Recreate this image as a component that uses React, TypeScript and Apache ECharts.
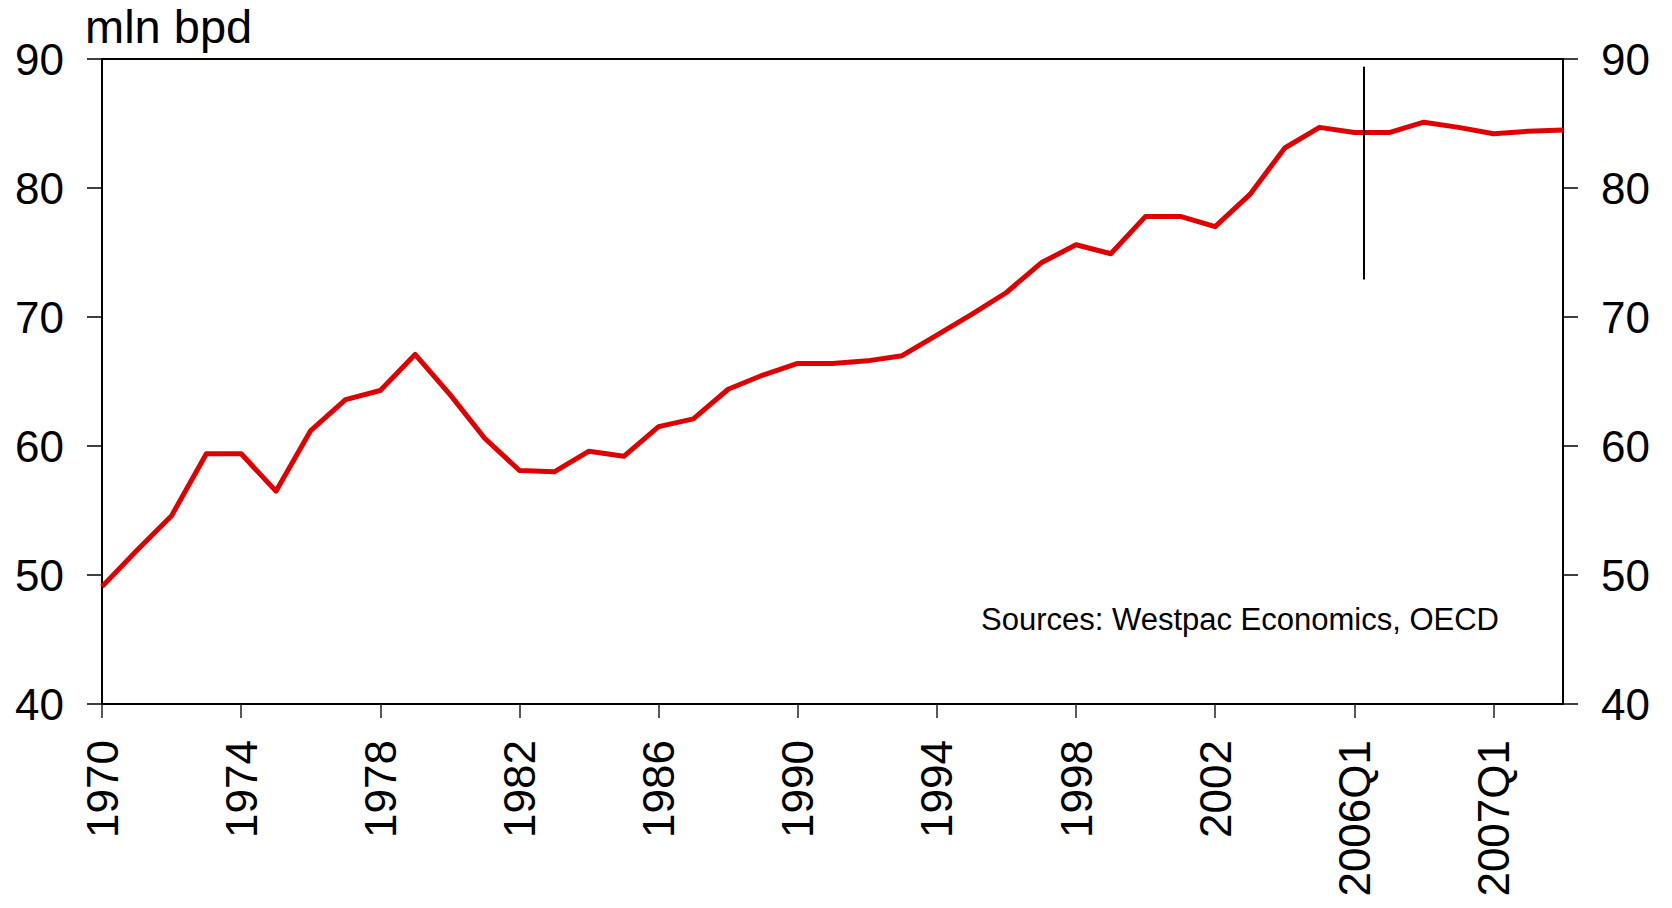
import React, { useEffect, useRef } from "react";
import * as echarts from "echarts";

const categories: string[] = [
  "1970", "1971", "1972", "1973", "1974", "1975", "1976", "1977", "1978", "1979",
  "1980", "1981", "1982", "1983", "1984", "1985", "1986", "1987", "1988", "1989",
  "1990", "1991", "1992", "1993", "1994", "1995", "1996", "1997", "1998", "1999",
  "2000", "2001", "2002", "2003", "2004", "2005",
  "2006Q1", "2006Q2", "2006Q3", "2006Q4", "2007Q1", "2007Q2", "2007Q3",
];

const demand: number[] = [
  49.1, 51.9, 54.6, 59.4, 59.4, 56.5, 61.2, 63.6, 64.3, 67.1,
  64.0, 60.6, 58.1, 58.0, 59.6, 59.2, 61.5, 62.1, 64.4, 65.5,
  66.4, 66.4, 66.6, 67.0, 68.6, 70.2, 71.9, 74.2, 75.6, 74.9,
  77.8, 77.8, 77.0, 79.5, 83.1, 84.7,
  84.3, 84.3, 85.1, 84.7, 84.2, 84.4, 84.5,
];

const labelIndices: number[] = [0, 4, 8, 12, 16, 20, 24, 28, 32, 36, 40];
const yTicks: number[] = [40, 50, 60, 70, 80, 90];
// separator marker: x position in category units, y from / to
const markerX = 36.28;
const markerY: number[] = [89.4, 72.9];

const unitLabel = "mln bpd";
const sourceLabel = "Sources: Westpac Economics, OECD";

export default function App() {
  const ref = useRef<HTMLDivElement>(null);
  useEffect(() => {
    if (!ref.current) return;
    const chart = echarts.init(ref.current, undefined, { renderer: "svg" });
    const font = "'Liberation Sans', Arial, sans-serif";
    const yAxisCommon = {
      type: "value" as const,
      min: yTicks[0],
      max: yTicks[yTicks.length - 1],
      interval: 10,
      splitLine: { show: false },
      axisLine: { show: true, lineStyle: { color: "#000", width: 2 } },
      axisTick: { show: true, inside: false, length: 15, lineStyle: { color: "#000", width: 1.5 } },
      axisLabel: { color: "#000", fontSize: 44, fontFamily: font, margin: 38 },
    };
    chart.setOption({
      animation: false,
      backgroundColor: "#fff",
      grid: {
        left: 102,
        right: 109,
        top: 59,
        bottom: 204,
        show: true,
        borderColor: "#000",
        borderWidth: 2,
        backgroundColor: "transparent",
      },
      xAxis: {
        type: "value",
        min: 0,
        max: categories.length - 1,
        interval: 4,
        splitLine: { show: false },
        axisLine: { show: true, onZero: false, lineStyle: { color: "#000", width: 2 } },
        axisTick: {
          show: true,
          length: 14,
          customValues: labelIndices,
          lineStyle: { color: "#222", width: 1.5 },
        },
        axisLabel: {
          customValues: labelIndices,
          rotate: 90,
          margin: 36,
          color: "#000",
          fontSize: 44,
          fontFamily: font,
          formatter: (v: number) => categories[Math.round(v)] ?? "",
        },
      },
      yAxis: [
        { ...yAxisCommon, position: "left" },
        { ...yAxisCommon, position: "right" },
      ],
      series: [
        {
          type: "line",
          data: demand.map((v, i) => [i, v]),
          yAxisIndex: 0,
          symbol: "none",
          lineStyle: { color: "#e00000", width: 5, join: "round" },
          markLine: {
            silent: true,
            symbol: ["none", "none"],
            label: { show: false },
            lineStyle: { color: "#000", width: 2, type: "solid" },
            data: [[{ coord: [markerX, markerY[0]] }, { coord: [markerX, markerY[1]] }]],
          },
        },
      ],
      graphic: [
        {
          type: "text",
          left: 85,
          top: 3,
          style: { text: unitLabel, fill: "#000", fontSize: 47, fontFamily: font },
        },
        {
          type: "text",
          left: 981,
          top: 604,
          style: { text: sourceLabel, fill: "#000", fontSize: 31, fontFamily: font },
        },
      ],
    });
    return () => chart.dispose();
  }, []);
  return <div ref={ref} style={{ width: 1672, height: 908, position: "absolute", left: 0, top: 0 }} />;
}
